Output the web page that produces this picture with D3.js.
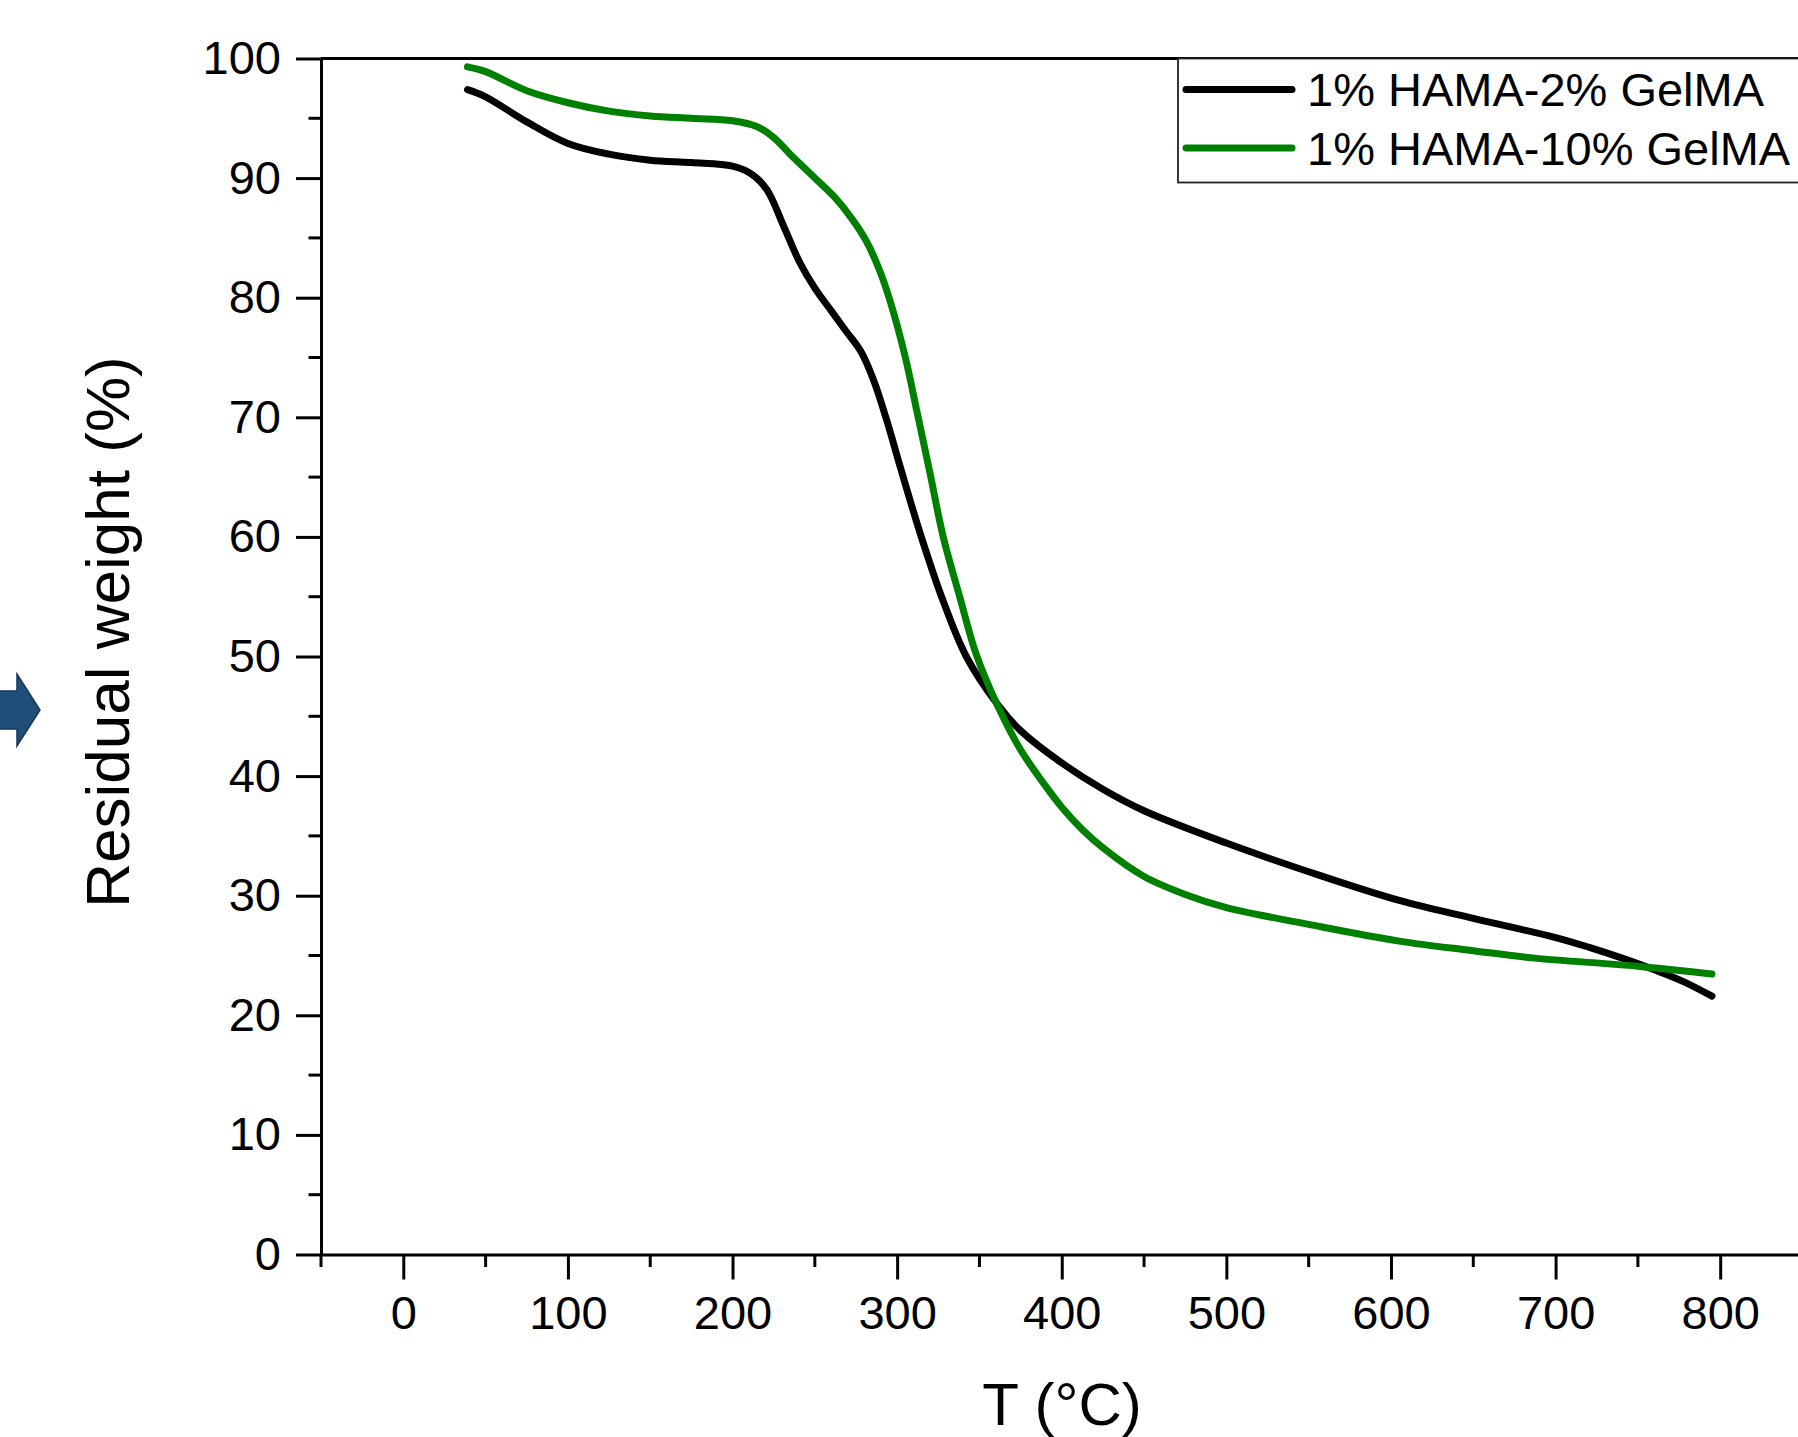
<!DOCTYPE html>
<html>
<head>
<meta charset="utf-8">
<script src="https://cdn.jsdelivr.net/npm/d3@7"></script>
<style>
  html, body { margin: 0; padding: 0; background: #fff; }
  svg { display: block; font-family: "Liberation Sans", Arial, sans-serif; }
</style>
</head>
<body>
<svg id="chart" width="1798" height="1437"></svg>
<script>
// temperatures (°C) and residual weight (%)
var tempBlack = [39, 50, 75, 100, 125, 150, 175, 200, 212, 221, 231, 241, 250, 260, 269, 278, 286, 294, 302, 314, 327, 342, 361, 375, 400, 425, 450, 500, 550, 605, 650, 700, 720, 740, 760, 778, 795];
var weightBlack = [97.4, 96.8, 94.7, 92.9, 92.0, 91.5, 91.3, 91.0, 90.3, 89.0, 86.0, 82.9, 80.8, 78.9, 77.2, 75.5, 73.0, 69.6, 65.8, 60.3, 55.0, 50.0, 46.0, 43.8, 41.1, 38.9, 37.1, 34.4, 32.0, 29.6, 28.1, 26.5, 25.7, 24.8, 23.8, 22.8, 21.6];

var tempGreen = [39, 50, 75, 100, 125, 150, 175, 200, 215, 225, 235, 250, 262, 272, 281, 289, 296, 305, 312, 320, 328, 338, 348, 361, 375, 390, 400, 412, 425, 450, 475, 500, 550, 605, 650, 686, 750, 795];
var weightGreen = [99.3, 98.9, 97.3, 96.3, 95.6, 95.2, 95.0, 94.8, 94.3, 93.4, 92.0, 90.0, 88.4, 86.7, 84.8, 82.4, 79.6, 75.0, 70.5, 65.3, 60.0, 55.0, 50.2, 45.9, 42.2, 39.2, 37.4, 35.6, 34.0, 31.6, 30.1, 29.0, 27.6, 26.2, 25.4, 24.8, 24.1, 23.45];

var seriesNames = ["1% HAMA-2% GelMA", "1% HAMA-10% GelMA"];
var seriesColors = ["#000000", "#008000"];

var xTicks = [0, 100, 200, 300, 400, 500, 600, 700, 800];
var yTicks = [0, 10, 20, 30, 40, 50, 60, 70, 80, 90, 100];

var svg = d3.select("#chart");
svg.append("rect").attr("width", 1798).attr("height", 1437).attr("fill", "#fff");

var x = d3.scaleLinear().domain([-50, 850]).range([321, 1802.5]);
var y = d3.scaleLinear().domain([0, 100]).range([1254.5, 58.5]);

var fontSize = 47;

// blue arrow on the left edge (part of a larger figure)
svg.append("path")
    .attr("d", "M-10,691 L17,691 L17,674 L40,710 L17,746 L17,729 L-10,729 Z")
    .attr("fill", "#1f4e79")
    .attr("stroke", "#15365a")
    .attr("stroke-width", 1.5);

// frame top line
svg.append("line")
    .attr("x1", x(-50)).attr("x2", x(850))
    .attr("y1", y(100)).attr("y2", y(100))
    .attr("stroke", "#000").attr("stroke-width", 3);

// minor ticks
var yMinor = d3.range(5, 100, 10);
var xMinor = d3.range(-50, 851, 100);

svg.selectAll(".ymin").data(yMinor).enter().append("line")
    .attr("x1", x(-50) - 12.5).attr("x2", x(-50))
    .attr("y1", function(d) { return y(d); })
    .attr("y2", function(d) { return y(d); })
    .attr("stroke", "#000").attr("stroke-width", 3);

svg.selectAll(".xmin").data(xMinor).enter().append("line")
    .attr("x1", function(d) { return x(d); })
    .attr("x2", function(d) { return x(d); })
    .attr("y1", y(0)).attr("y2", y(0) + 12.5)
    .attr("stroke", "#000").attr("stroke-width", 3);

// axes
var yAxis = d3.axisLeft(y).tickValues(yTicks).tickSize(25).tickPadding(15).tickSizeOuter(0);
var xAxis = d3.axisBottom(x).tickValues(xTicks).tickSize(25).tickPadding(16).tickSizeOuter(0);

var gy = svg.append("g").attr("transform", "translate(" + x(-50) + ",0)").call(yAxis);
var gx = svg.append("g").attr("transform", "translate(0," + y(0) + ")").call(xAxis);

[gx, gy].forEach(function(g) {
  g.select(".domain").attr("stroke", "#000").attr("stroke-width", 3);
  g.selectAll(".tick line").attr("stroke", "#000").attr("stroke-width", 3);
  g.selectAll(".tick text")
      .attr("fill", "#000")
      .style("font-size", fontSize + "px")
      .style("font-family", "'Liberation Sans', Arial, sans-serif");
});
gx.selectAll(".tick text").attr("dy", "0.71em");

// axis titles
svg.append("text")
    .attr("transform", "translate(129," + 632 + ") rotate(-90)")
    .attr("text-anchor", "middle")
    .style("font-size", "62px")
    .text("Residual weight (%)");

svg.append("text")
    .attr("x", 1062).attr("y", 1425)
    .attr("text-anchor", "middle")
    .style("font-size", "60px")
    .text("T (°C)");

// curves
var line = d3.line()
    .x(function(d) { return x(d[0]); })
    .y(function(d) { return y(d[1]); })
    .curve(d3.curveCatmullRom.alpha(0.5));

var blackData = d3.zip(tempBlack, weightBlack);
var greenData = d3.zip(tempGreen, weightGreen);

[blackData, greenData].forEach(function(data, i) {
  svg.append("path")
      .datum(data)
      .attr("d", line)
      .attr("fill", "none")
      .attr("stroke", seriesColors[i])
      .attr("stroke-width", 7)
      .attr("stroke-linecap", "round")
      .attr("stroke-linejoin", "round");
});

// legend
var legend = svg.append("g");
legend.append("rect")
    .attr("x", 1178).attr("y", y(100))
    .attr("width", 700).attr("height", 124)
    .attr("fill", "#fff")
    .attr("stroke", "#222").attr("stroke-width", 1.8);

seriesNames.forEach(function(name, i) {
  var ly = 89.5 + i * 58.5;
  legend.append("line")
      .attr("x1", 1186).attr("x2", 1292)
      .attr("y1", ly).attr("y2", ly)
      .attr("stroke", seriesColors[i])
      .attr("stroke-width", 7)
      .attr("stroke-linecap", "round");
  legend.append("text")
      .attr("x", 1307).attr("y", ly)
      .attr("dy", "0.36em")
      .style("font-size", fontSize + "px")
      .text(name);
});
</script>
</body>
</html>
